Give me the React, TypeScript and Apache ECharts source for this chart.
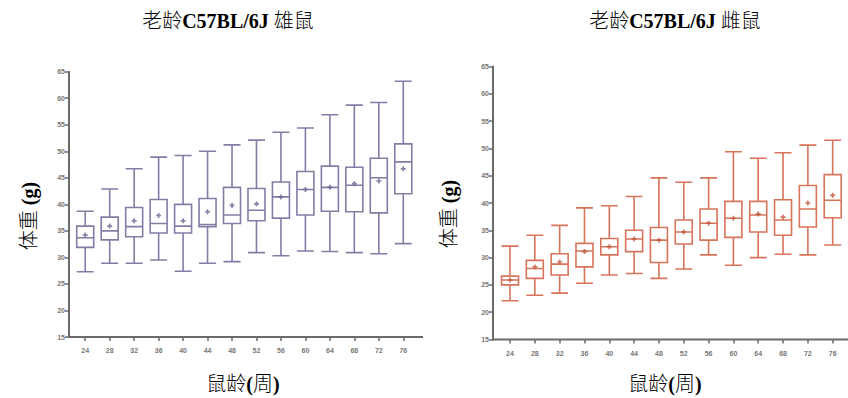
import React, { useEffect, useRef } from "react";
import * as echarts from "echarts";

const weeks = ["24", "28", "32", "36", "40", "44", "48", "52", "56", "60", "64", "68", "72", "76"];

// 老龄 C57BL/6J 雄鼠 (male)
const maleLow = [27.3, 28.9, 28.9, 29.5, 27.4, 28.9, 29.2, 30.9, 30.3, 31.2, 31.1, 30.9, 30.7, 32.6];
const maleQ1 = [31.9, 33.3, 33.9, 34.6, 34.6, 35.8, 36.4, 36.9, 37.4, 38.0, 38.7, 38.6, 38.4, 42.0];
const maleMedian = [33.7, 35.0, 35.8, 36.4, 35.9, 36.2, 38.0, 38.9, 41.4, 42.8, 43.2, 43.6, 45.0, 48.0];
const maleQ3 = [35.9, 37.6, 39.4, 40.9, 40.0, 41.1, 43.2, 43.0, 44.2, 46.2, 47.2, 47.0, 48.7, 51.4];
const maleHigh = [38.7, 42.9, 46.7, 48.9, 49.2, 50.0, 51.2, 52.1, 53.6, 54.4, 56.9, 58.7, 59.2, 63.2];
const maleMean = [34.2, 35.9, 36.9, 37.9, 36.9, 38.6, 39.8, 40.1, 41.4, 42.8, 43.2, 43.9, 44.4, 46.7];

// 老龄 C57BL/6J 雌鼠 (female)
const femaleLow = [22.1, 23.1, 23.5, 25.3, 26.8, 27.1, 26.2, 27.9, 30.5, 28.6, 30.0, 30.6, 30.5, 32.3];
const femaleQ1 = [25.0, 26.2, 26.8, 28.3, 30.5, 31.1, 29.1, 32.5, 33.2, 33.7, 34.7, 34.1, 35.6, 37.3];
const femaleMedian = [25.9, 28.0, 28.8, 31.2, 32.0, 33.4, 33.2, 34.7, 36.3, 37.2, 37.8, 36.9, 38.9, 40.5];
const femaleQ3 = [26.6, 29.5, 30.7, 32.6, 33.5, 35.0, 35.5, 36.9, 38.9, 40.3, 40.3, 40.6, 43.2, 45.2];
const femaleHigh = [32.1, 34.1, 35.9, 39.1, 39.5, 41.2, 44.6, 43.8, 44.6, 49.4, 48.2, 49.2, 50.6, 51.5];
const femaleMean = [25.9, 28.3, 29.2, 31.1, 32.0, 33.4, 33.2, 34.7, 36.3, 37.2, 38.0, 37.4, 40.0, 41.4];

const yMin = 15;
const yMax = 65;
const yStep = 5;

const maleColor = "#857ca6";
const femaleColor = "#d7745b";
const axisColor = "#6a6a6a";
const serif = "'Liberation Serif', 'Noto Sans CJK SC', serif";

function boxData(lo: number[], q1: number[], med: number[], q3: number[], hi: number[]) {
  return lo.map((v, i) => [v, q1[i], med[i], q3[i], hi[i]]);
}

const crossSymbol = "path://M-1,-3H1V-1H3V1H1V3H-1V1H-3V-1H-1Z";

export default function App() {
  const ref = useRef<HTMLDivElement>(null);

  useEffect(() => {
    if (!ref.current) return;
    const chart = echarts.init(ref.current, undefined, { renderer: "svg" });

    const xAxisCommon = {
      type: "category" as const,
      data: weeks,
      boundaryGap: true,
      axisLine: { show: false },
      axisTick: { show: true, alignWithLabel: true, length: 4, lineStyle: { color: axisColor, width: 1.5 } },
      axisLabel: { interval: 0, fontSize: 7, color: "#777", margin: 10, fontFamily: "'Liberation Sans', sans-serif", fontWeight: "bold" as const },
      splitLine: { show: false },
    };
    const yAxisCommon = {
      type: "value" as const,
      min: yMin,
      max: yMax,
      interval: yStep,
      axisLine: { show: true, lineStyle: { color: axisColor, width: 2 } },
      axisTick: { show: true, length: 4, lineStyle: { color: axisColor, width: 1.5 } },
      axisLabel: { fontSize: 7, color: "#777", margin: 4, fontFamily: "'Liberation Sans', sans-serif", fontWeight: "bold" as const },
      splitLine: { show: false },
    };

    const rich = {
      a: { fontFamily: serif, fontSize: 20, color: "#333", fontWeight: 300 },
      b: { fontFamily: serif, fontSize: 20, color: "#222", fontWeight: "bold" },
    };

    chart.setOption({
      animation: false,
      backgroundColor: "#ffffff",
      grid: [
        { left: 73, top: 71.7, width: 342.5, height: 265.3 },
        { left: 497.6, top: 66.5, width: 347.5, height: 273 },
      ],
      xAxis: [
        { ...xAxisCommon, gridIndex: 0 },
        { ...xAxisCommon, gridIndex: 1 },
      ],
      yAxis: [
        { ...yAxisCommon, gridIndex: 0, offset: 4 },
        { ...yAxisCommon, gridIndex: 1, offset: 4.6 },
      ],
      series: [
        {
          type: "boxplot",
          xAxisIndex: 0,
          yAxisIndex: 0,
          boxWidth: [17, 17],
          data: boxData(maleLow, maleQ1, maleMedian, maleQ3, maleHigh),
          itemStyle: { color: "rgba(255,255,255,0)", borderColor: maleColor, borderWidth: 1.6 },
        },
        {
          type: "scatter",
          xAxisIndex: 0,
          yAxisIndex: 0,
          symbol: crossSymbol,
          symbolSize: 5,
          data: maleMean,
          itemStyle: { color: "#6b6290" },
        },
        {
          type: "boxplot",
          xAxisIndex: 1,
          yAxisIndex: 1,
          boxWidth: [17, 17],
          data: boxData(femaleLow, femaleQ1, femaleMedian, femaleQ3, femaleHigh),
          itemStyle: { color: "rgba(255,255,255,0)", borderColor: femaleColor, borderWidth: 1.6 },
        },
        {
          type: "scatter",
          xAxisIndex: 1,
          yAxisIndex: 1,
          symbol: crossSymbol,
          symbolSize: 5,
          data: femaleMean,
          itemStyle: { color: "#c0553c" },
        },
      ],
      graphic: [
        { type: "line", shape: { x1: 68, y1: 337, x2: 423, y2: 337 }, style: { stroke: axisColor, lineWidth: 2 }, z: 10 },
        { type: "line", shape: { x1: 492, y1: 339.5, x2: 848, y2: 339.5 }, style: { stroke: axisColor, lineWidth: 2 }, z: 10 },
        {
          type: "text", x: 228, y: 21,
          style: { text: "{a|老龄}{b|C57BL/6J}{a| 雄鼠}", rich, align: "center", verticalAlign: "middle" },
        },
        {
          type: "text", x: 675, y: 21,
          style: { text: "{a|老龄}{b|C57BL/6J}{a| 雌鼠}", rich, align: "center", verticalAlign: "middle" },
        },
        {
          type: "text", x: 243, y: 384,
          style: { text: "{a|鼠龄}{b|(}{a|周}{b|)}", rich, align: "center", verticalAlign: "middle" },
        },
        {
          type: "text", x: 665, y: 384,
          style: { text: "{a|鼠龄}{b|(}{a|周}{b|)}", rich, align: "center", verticalAlign: "middle" },
        },
        {
          type: "text", x: 29, y: 216, rotation: Math.PI / 2,
          style: { text: "{a|体重 }{b|(g)}", rich, align: "center", verticalAlign: "middle" },
        },
        {
          type: "text", x: 449, y: 214, rotation: Math.PI / 2,
          style: { text: "{a|体重 }{b|(g)}", rich, align: "center", verticalAlign: "middle" },
        },
      ],
    });

    return () => chart.dispose();
  }, []);

  return (
    <div
      ref={ref}
      style={{ position: "absolute", left: 0, top: 0, width: 848, height: 398 }}
    />
  );
}
